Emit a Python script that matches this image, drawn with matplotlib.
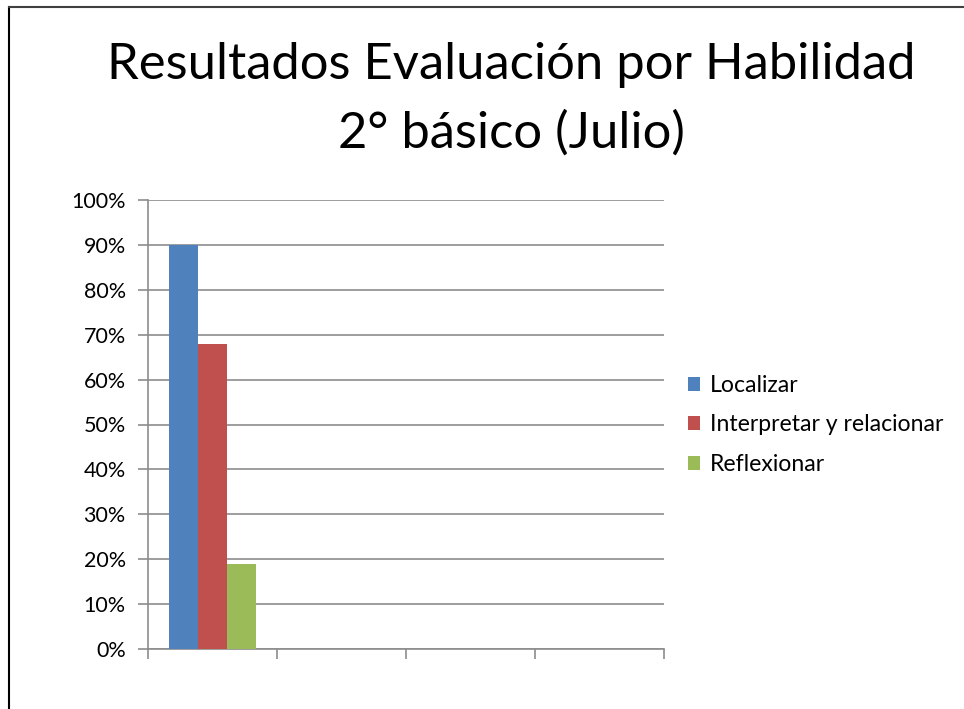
import numpy as np
import matplotlib
matplotlib.use("Agg")
import matplotlib.pyplot as plt
from matplotlib.lines import Line2D
from matplotlib.ticker import PercentFormatter

plt.rcParams['font.family'] = ['Lato', 'DejaVu Sans']

# data
categories = ['', '', '', '']
series = ['Localizar', 'Interpretar y relacionar', 'Reflexionar']
localizar = [0.90, 0, 0, 0]
interpretar = [0.68, 0, 0, 0]
reflexionar = [0.19, 0, 0, 0]
colors = ['#4f81bd', '#c0504d', '#9bbb59']

fig = plt.figure(figsize=(9.64, 7.09), dpi=100)

# outer chart border (top and left visible)
fig.add_artist(Line2D([9/964, 9/964], [0, 1 - 7/709], color='black', lw=1.5, transform=fig.transFigure))
fig.add_artist(Line2D([9/964, 1], [1 - 7/709, 1 - 7/709], color='#404040', lw=1.5, transform=fig.transFigure))

ax = fig.add_axes([148/964, 1 - 649/709, (664 - 148)/964, (649 - 200)/709])

x = np.arange(len(categories))
w = 0.225
for i, (vals, name) in enumerate(zip([localizar, interpretar, reflexionar], series)):
    ax.bar(x + (i - 1) * w, vals, width=w, color=colors[i], label=name, zorder=3)

ax.set_xlim(-0.5, len(categories) - 0.5)
ax.set_ylim(0, 1)
ax.set_yticks(np.arange(0, 1.01, 0.1))
ax.yaxis.set_major_formatter(PercentFormatter(1.0, decimals=0))
ax.set_xticks(np.arange(-0.5, len(categories), 1.0))
ax.set_xticklabels([])
ax.yaxis.grid(True, color='#8c8c8c', lw=1.2, zorder=0)
ax.tick_params(axis='y', length=7, width=1.2, color='#8c8c8c', labelsize=15.5, pad=9)
ax.tick_params(axis='x', length=7, width=1.2, color='#8c8c8c')
for s in ['top', 'right']:
    ax.spines[s].set_visible(False)
for s in ['left', 'bottom']:
    ax.spines[s].set_color('#8c8c8c')
    ax.spines[s].set_linewidth(1.2)

fig.text(511/964, 1 - 99.5/709, 'Resultados Evaluación por Habilidad\n2° básico (Julio)',
         ha='center', va='center', fontsize=36.5, linespacing=1.6)

leg = ax.legend(loc='center left', bbox_to_anchor=(1.029, 0.499), frameon=False,
                borderaxespad=0, fontsize=16.6, handlelength=0.53, handleheight=0.53,
                handletextpad=0.4, labelspacing=0.8)

fig.savefig('out.png', dpi=100)
